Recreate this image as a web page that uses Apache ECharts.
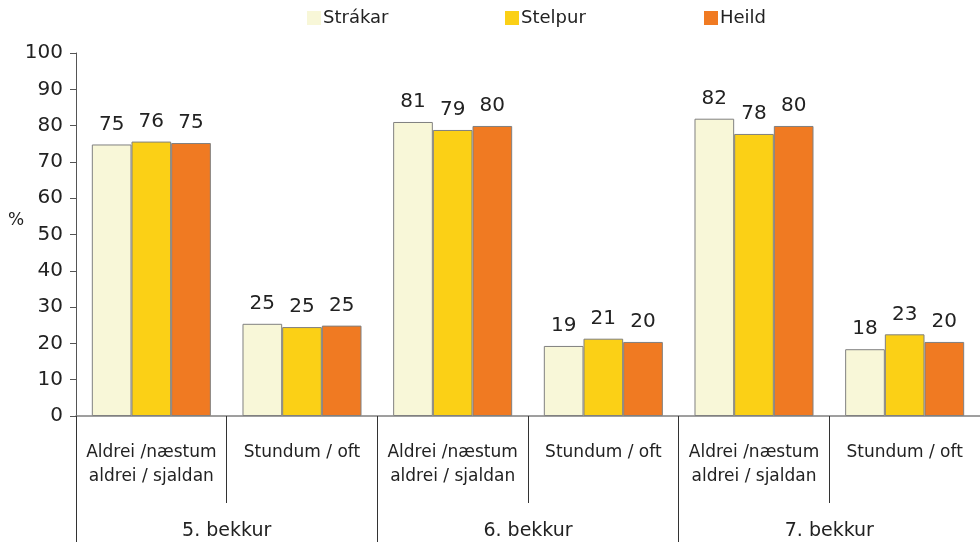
<!doctype html>
<html lang="is">
<head>
	<meta charset="UTF-8">
	<title>Bekkur</title>
	<script src="https://cdnjs.cloudflare.com/ajax/libs/echarts/6.0.0/echarts.min.js"></script>
	<style>
		html, body { margin: 0; padding: 0; background: #fff; }
		#main { width: 980px; height: 543px; }
	</style>
</head>
<body>
	<div id="main"></div>
	<script type="text/javascript">
		// data
		var answers = ['Aldrei /næstum\naldrei / sjaldan', 'Stundum / oft', 'Aldrei /næstum\naldrei / sjaldan', 'Stundum / oft', 'Aldrei /næstum\naldrei / sjaldan', 'Stundum / oft'];
		var grades = ['5. bekkur', '6. bekkur', '7. bekkur'];
		var seriesNames = ['Strákar', 'Stelpur', 'Heild'];
		var strakar = [74.8, 25.4, 81.0, 19.3, 81.9, 18.4];
		var stelpur = [75.6, 24.5, 78.8, 21.3, 77.7, 22.5];
		var heild = [75.2, 24.9, 79.9, 20.4, 79.9, 20.4];
		var yTicks = [0, 10, 20, 30, 40, 50, 60, 70, 80, 90, 100];

		var colors = ['#F8F7D8', '#FBD016', '#F07A22'];
		var font = 'DejaVu Sans';

		var myChart = echarts.init(document.getElementById('main'));

		function barSeries(name, data, color) {
			return {
				name: name,
				type: 'bar',
				data: data,
				barGap: '0%',
				barCategoryGap: '21%',
				itemStyle: { color: color, borderColor: '#808080', borderWidth: 1 },
				label: {
					show: true,
					position: 'top',
					distance: 10,
					fontFamily: font,
					fontSize: 20,
					color: '#222',
					formatter: function (p) { return Math.round(p.value); }
				}
			};
		}

		function legendAt(left, name) {
			return {
				data: [{ name: name, icon: 'rect', itemStyle: { borderWidth: 0 } }],
				left: left,
				top: 4,
				itemWidth: 14,
				itemHeight: 14,
				itemGap: 0,
				textStyle: { fontFamily: font, fontSize: 18, color: '#222', padding: [0, 0, 0, -3] }
			};
		}

		option = {
			animation: false,
			color: colors,
			legend: [legendAt(302, seriesNames[0]), legendAt(500, seriesNames[1]), legendAt(699, seriesNames[2])],
			grid: { left: 76, top: 53, width: 908, height: 364 },
			graphic: [{
				type: 'text', left: 8, top: 212,
				style: { text: '%', fontFamily: font, fontSize: 17, fill: '#222' }
			}],
			xAxis: [{
				type: 'category',
				data: answers,
				axisLine: { lineStyle: { color: '#808080', width: 1.5 } },
				axisTick: { show: true, length: 87, interval: 0, lineStyle: { color: '#333' } },
				axisLabel: { interval: 0, margin: 25, fontFamily: font, fontSize: 17, lineHeight: 24, color: '#222', verticalAlign: 'top' }
			}, {
				type: 'category',
				data: grades,
				position: 'bottom',
				axisLine: { show: false },
				axisTick: { show: true, length: 126, interval: 0, lineStyle: { color: '#333' } },
				axisLabel: { interval: 0, margin: 103, fontFamily: font, fontSize: 19, lineHeight: 24, color: '#222', verticalAlign: 'top' }
			}],
			yAxis: {
				type: 'value',
				min: yTicks[0],
				max: yTicks[yTicks.length - 1],
				interval: 10,
				axisLine: { show: true, lineStyle: { color: '#555' } },
				axisTick: { show: true, length: 6, lineStyle: { color: '#555' } },
				splitLine: { show: false },
				axisLabel: { margin: 13, fontFamily: font, fontSize: 20, color: '#222' }
			},
			series: [
				barSeries(seriesNames[0], strakar, colors[0]),
				barSeries(seriesNames[1], stelpur, colors[1]),
				barSeries(seriesNames[2], heild, colors[2])
			]
		};
		myChart.setOption(option);
	</script>
</body>
</html>
